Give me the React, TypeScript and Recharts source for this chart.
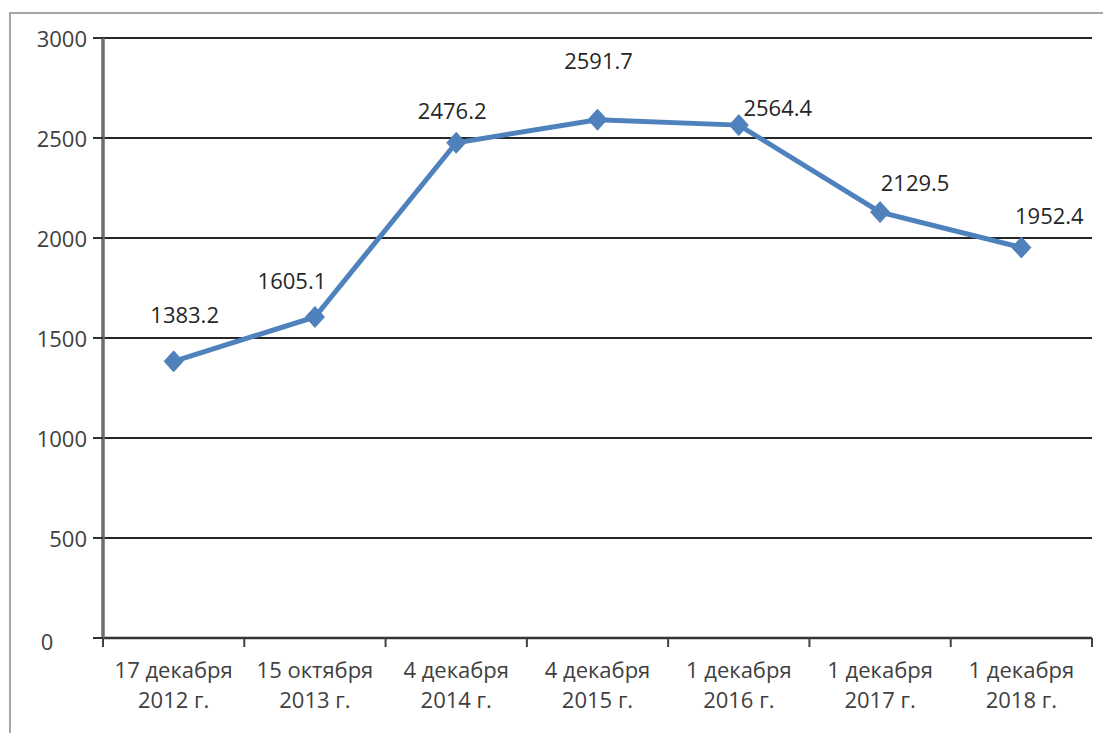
import React from "react";
import { LineChart, Line, XAxis, YAxis, CartesianGrid, LabelList } from "recharts";

const categoriesLine1 = ["17 декабря", "15 октября", "4 декабря", "4 декабря", "1 декабря", "1 декабря", "1 декабря"];
const categoriesLine2 = ["2012 г.", "2013 г.", "2014 г.", "2015 г.", "2016 г.", "2017 г.", "2018 г."];
const values = [1383.2, 1605.1, 2476.2, 2591.7, 2564.4, 2129.5, 1952.4];
const yTicks = [0, 500, 1000, 1500, 2000, 2500, 3000];
const labelDx = [11, -23, -4, 1, 39, 35, 28];
const labelDy = [-47, -37, -33, -60, -18, -30, -33];

const data = values.map((v, i) => ({ name: categoriesLine1[i] + " " + categoriesLine2[i], value: v }));

const W = 1103;
const H = 733;
const margin = { top: 38, right: 11, bottom: 0, left: 0 };
const yAxisWidth = 103;
const xAxisHeight = 95;
const plotWidth = W - margin.left - margin.right - yAxisWidth;
const bw = plotWidth / values.length;
const FONT = "'Open Sans', 'Noto Sans', sans-serif";
const FS = 22;
const TEXT = "#404040";

const XTick = (props: any) => {
  const { x, y, index } = props;
  const i = index as number;
  return (
    <g>
      <line x1={x - bw / 2} y1={y} x2={x - bw / 2} y2={y + 9} stroke="#404040" strokeWidth={2} />
      {i === values.length - 1 && (
        <line x1={x + bw / 2} y1={y} x2={x + bw / 2} y2={y + 9} stroke="#404040" strokeWidth={2} />
      )}
      <text x={x} y={y + 40} textAnchor="middle" fontSize={FS} fill={TEXT} fontFamily={FONT}>
        {categoriesLine1[i]}
      </text>
      <text x={x} y={y + 70} textAnchor="middle" fontSize={FS} fill={TEXT} fontFamily={FONT}>
        {categoriesLine2[i]}
      </text>
    </g>
  );
};

const YTick = (props: any) => {
  const { x, y, payload } = props;
  const isZero = payload.value === 0;
  return (
    <text
      x={isZero ? x - 40 : x}
      y={isZero ? y + 3 : y}
      textAnchor={isZero ? "middle" : "end"}
      dominantBaseline="central"
      fontSize={FS}
      fill={TEXT}
      fontFamily={FONT}
    >
      {payload.value}
    </text>
  );
};

const Diamond = (props: any) => {
  const { cx, cy } = props;
  const rx = 9.5;
  const ry = 10.5;
  return <path d={`M${cx},${cy - ry} L${cx + rx},${cy} L${cx},${cy + ry} L${cx - rx},${cy} Z`} fill="#4F81BD" stroke="#4F81BD" />;
};

const DataLabel = (props: any) => {
  const { x, y, index, value } = props;
  return (
    <text x={x + labelDx[index]} y={y + labelDy[index]} textAnchor="middle" dominantBaseline="central" fontSize={FS} fill="#262626" fontFamily={FONT}>
      {value}
    </text>
  );
};

export default function App() {
  return (
    <div style={{ position: "absolute", left: 0, top: 0, width: W, height: H, background: "#fff", overflow: "hidden" }}>
      <div style={{ position: "absolute", left: 9, top: 12, width: W + 10, height: H + 10, border: "2px solid #a6a6a6", boxSizing: "border-box" }} />
      <div style={{ position: "absolute", left: 0, top: 0 }}>
        <LineChart width={W} height={H} data={data} margin={margin}>
          <CartesianGrid vertical={false} stroke="#262626" strokeWidth={2} />
          <XAxis
            dataKey="name"
            scale="band"
            interval={0}
            tickSize={0}
            tickMargin={0}
            tickLine={false}
            axisLine={{ stroke: "#333333", strokeWidth: 2.5 }}
            tick={<XTick />}
            height={xAxisHeight}
          />
          <YAxis
            domain={[0, 3000]}
            ticks={yTicks}
            width={yAxisWidth}
            tickSize={10}
            tickMargin={6}
            axisLine={{ stroke: "#6e6e6e", strokeWidth: 3.5 }}
            tickLine={{ stroke: "#333333", strokeWidth: 2 }}
            tick={<YTick />}
            interval={0}
          />
          <YAxis
            yAxisId="r"
            orientation="right"
            width={0}
            tick={false}
            tickLine={false}
            axisLine={{ stroke: "#c8c8c8", strokeWidth: 2 }}
          />
          <Line
            dataKey="value"
            stroke="#4F81BD"
            strokeWidth={5}
            dot={<Diamond />}
            activeDot={false}
            isAnimationActive={false}
          >
            <LabelList dataKey="value" content={<DataLabel />} />
          </Line>
        </LineChart>
      </div>
    </div>
  );
}
